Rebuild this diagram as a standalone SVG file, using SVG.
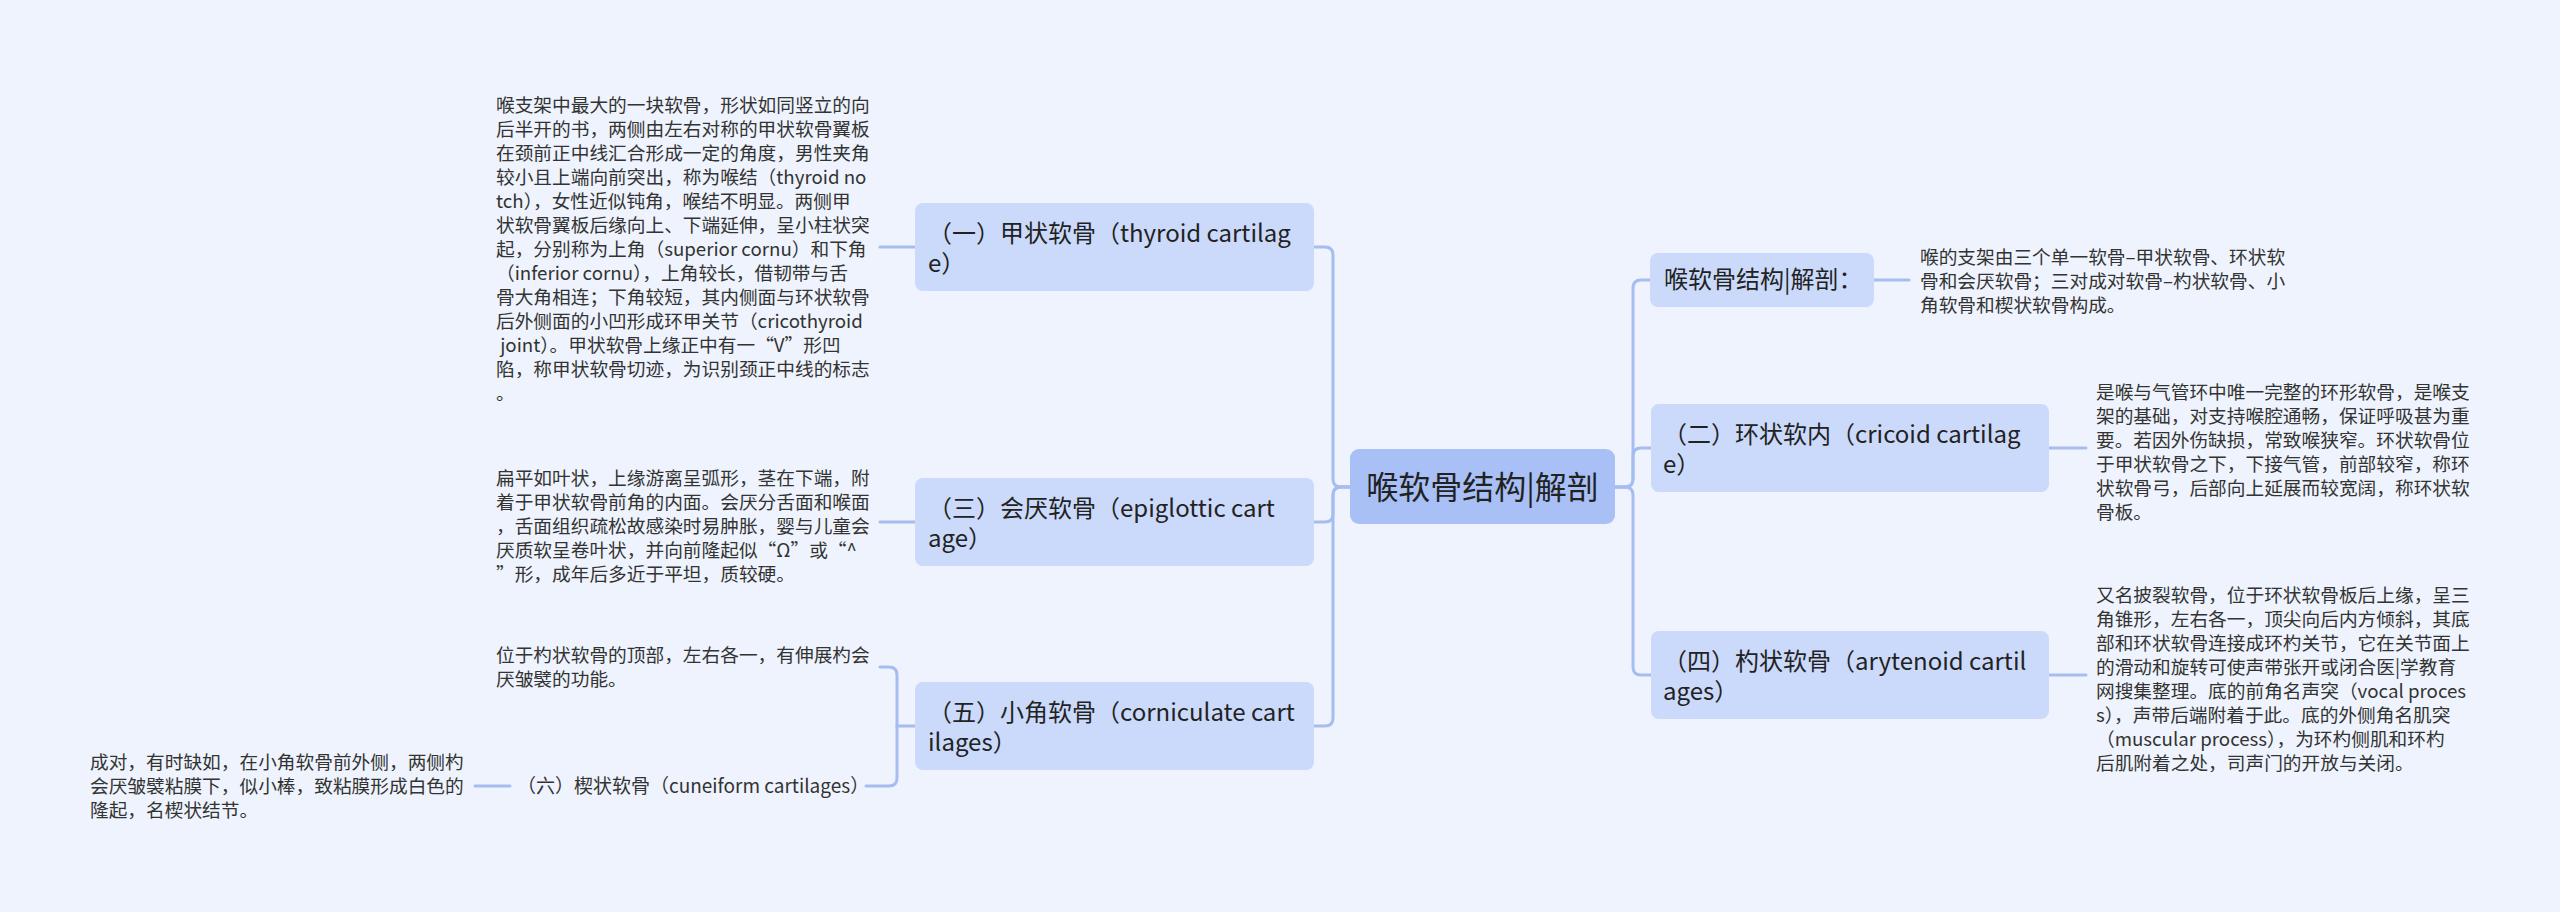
<svg xmlns="http://www.w3.org/2000/svg" width="2560" height="912" viewBox="0 0 2560 912">
<style>
.bg{fill:#eef3fd}
.root rect{fill:#a8c0f6}
.node rect{fill:#cbdafb}
text{font-family:"Noto Sans CJK SC","Noto Sans",sans-serif;fill:#222;white-space:pre}
.rt{font-size:32px}
.nt{font-size:24px}
.dt{font-size:18.7px;fill:#333}
.lt{font-size:19px;fill:#333}
.lnk path{fill:none;stroke:#a6bdf0;stroke-width:3;stroke-linecap:round}
</style>
<rect class="bg" x="0" y="0" width="2560" height="912"/>
<g class="lnk" id="connectors">
<path d="M1350,487 H1341 Q1333,487 1333,479 V255 Q1333,247 1325,247 H1314"/>
<path d="M1350,487 H1341 Q1333,487 1333,495 V514 Q1333,522 1325,522 H1314"/>
<path d="M1350,487 H1341 Q1333,487 1333,495 V718 Q1333,726 1325,726 H1314"/>
<path d="M1615,487 H1625 Q1633,487 1633,479 V288 Q1633,280 1641,280 H1650"/>
<path d="M1615,487 H1625 Q1633,487 1633,479 V456 Q1633,448 1641,448 H1651"/>
<path d="M1615,487 H1625 Q1633,487 1633,495 V667 Q1633,675 1641,675 H1651"/>
<path d="M915,247 H880"/>
<path d="M915,522 H880"/>
<path d="M915,726 H897 V675 Q897,667 889,667 H880"/>
<path d="M897,726 V778 Q897,786 889,786 H866"/>
<path d="M510,786 H475"/>
<path d="M1874,280 H1909"/>
<path d="M2049,448 H2086"/>
<path d="M2049,675 H2086"/>
</g>
<g class="root" id="root">
<rect x="1350" y="449" width="265" height="75" rx="9"/>
<text class="rt" x="1482.5" y="499" text-anchor="middle">喉软骨结构|解剖</text>
</g>
<g class="node" id="n1">
<rect x="915" y="203" width="399" height="88" rx="8"/>
<text class="nt"><tspan x="928" y="242">（一）甲状软骨（thyroid cartilag</tspan><tspan x="928" y="272">e）</tspan></text>
</g>
<g id="n1d">
<text class="dt"><tspan x="496" y="112">喉支架中最大的一块软骨，形状如同竖立的向</tspan><tspan x="496" y="136">后半开的书，两侧由左右对称的甲状软骨翼板</tspan><tspan x="496" y="160">在颈前正中线汇合形成一定的角度，男性夹角</tspan><tspan x="496" y="184">较小且上端向前突出，称为喉结（thyroid no</tspan><tspan x="496" y="208">tch），女性近似钝角，喉结不明显。两侧甲</tspan><tspan x="496" y="232">状软骨翼板后缘向上、下端延伸，呈小柱状突</tspan><tspan x="496" y="256">起，分别称为上角（superior cornu）和下角</tspan><tspan x="496" y="280">（inferior cornu），上角较长，借韧带与舌</tspan><tspan x="496" y="304">骨大角相连；下角较短，其内侧面与环状软骨</tspan><tspan x="496" y="328">后外侧面的小凹形成环甲关节（cricothyroid</tspan><tspan x="496" y="352"> joint）。甲状软骨上缘正中有一“V”形凹</tspan><tspan x="496" y="376">陷，称甲状软骨切迹，为识别颈正中线的标志</tspan><tspan x="496" y="400">。</tspan></text>
</g>
<g class="node" id="n3">
<rect x="915" y="478" width="399" height="88" rx="8"/>
<text class="nt"><tspan x="928" y="517">（三）会厌软骨（epiglottic cart</tspan><tspan x="928" y="547">age）</tspan></text>
</g>
<g id="n3d">
<text class="dt"><tspan x="496" y="485">扁平如叶状，上缘游离呈弧形，茎在下端，附</tspan><tspan x="496" y="509">着于甲状软骨前角的内面。会厌分舌面和喉面</tspan><tspan x="496" y="533">，舌面组织疏松故感染时易肿胀，婴与儿童会</tspan><tspan x="496" y="557">厌质软呈卷叶状，并向前隆起似“Ω”或“^</tspan><tspan x="496" y="581">”形，成年后多近于平坦，质较硬。</tspan></text>
</g>
<g class="node" id="n5">
<rect x="915" y="682" width="399" height="88" rx="8"/>
<text class="nt"><tspan x="928" y="721">（五）小角软骨（corniculate cart</tspan><tspan x="928" y="751">ilages）</tspan></text>
</g>
<g id="n5d">
<text class="dt"><tspan x="496" y="662">位于杓状软骨的顶部，左右各一，有伸展杓会</tspan><tspan x="496" y="686">厌皱襞的功能。</tspan></text>
</g>
<g id="n6">
<text class="lt" x="517" y="793">（六）楔状软骨（cuneiform cartilages）</text>
</g>
<g id="n6d">
<text class="dt"><tspan x="90" y="769">成对，有时缺如，在小角软骨前外侧，两侧杓</tspan><tspan x="90" y="793">会厌皱襞粘膜下，似小棒，致粘膜形成白色的</tspan><tspan x="90" y="817">隆起，名楔状结节。</tspan></text>
</g>
<g class="node" id="r1">
<rect x="1650" y="253" width="224" height="54" rx="8"/>
<text class="nt" x="1664" y="288">喉软骨结构|解剖：</text>
</g>
<g id="r1d">
<text class="dt"><tspan x="1920" y="264">喉的支架由三个单一软骨–甲状软骨、环状软</tspan><tspan x="1920" y="288">骨和会厌软骨；三对成对软骨–杓状软骨、小</tspan><tspan x="1920" y="312">角软骨和楔状软骨构成。</tspan></text>
</g>
<g class="node" id="n2">
<rect x="1651" y="404" width="398" height="88" rx="8"/>
<text class="nt"><tspan x="1663" y="443">（二）环状软内（cricoid cartilag</tspan><tspan x="1663" y="473">e）</tspan></text>
</g>
<g id="n2d">
<text class="dt"><tspan x="2096" y="399">是喉与气管环中唯一完整的环形软骨，是喉支</tspan><tspan x="2096" y="423">架的基础，对支持喉腔通畅，保证呼吸甚为重</tspan><tspan x="2096" y="447">要。若因外伤缺损，常致喉狭窄。环状软骨位</tspan><tspan x="2096" y="471">于甲状软骨之下，下接气管，前部较窄，称环</tspan><tspan x="2096" y="495">状软骨弓，后部向上延展而较宽阔，称环状软</tspan><tspan x="2096" y="519">骨板。</tspan></text>
</g>
<g class="node" id="n4">
<rect x="1651" y="631" width="398" height="88" rx="8"/>
<text class="nt"><tspan x="1663" y="670">（四）杓状软骨（arytenoid cartil</tspan><tspan x="1663" y="700">ages）</tspan></text>
</g>
<g id="n4d">
<text class="dt"><tspan x="2096" y="602">又名披裂软骨，位于环状软骨板后上缘，呈三</tspan><tspan x="2096" y="626">角锥形，左右各一，顶尖向后内方倾斜，其底</tspan><tspan x="2096" y="650">部和环状软骨连接成环杓关节，它在关节面上</tspan><tspan x="2096" y="674">的滑动和旋转可使声带张开或闭合医|学教育</tspan><tspan x="2096" y="698">网搜集整理。底的前角名声突（vocal proces</tspan><tspan x="2096" y="722">s），声带后端附着于此。底的外侧角名肌突</tspan><tspan x="2096" y="746">（muscular process），为环杓侧肌和环杓</tspan><tspan x="2096" y="770">后肌附着之处，司声门的开放与关闭。</tspan></text>
</g>
</svg>
